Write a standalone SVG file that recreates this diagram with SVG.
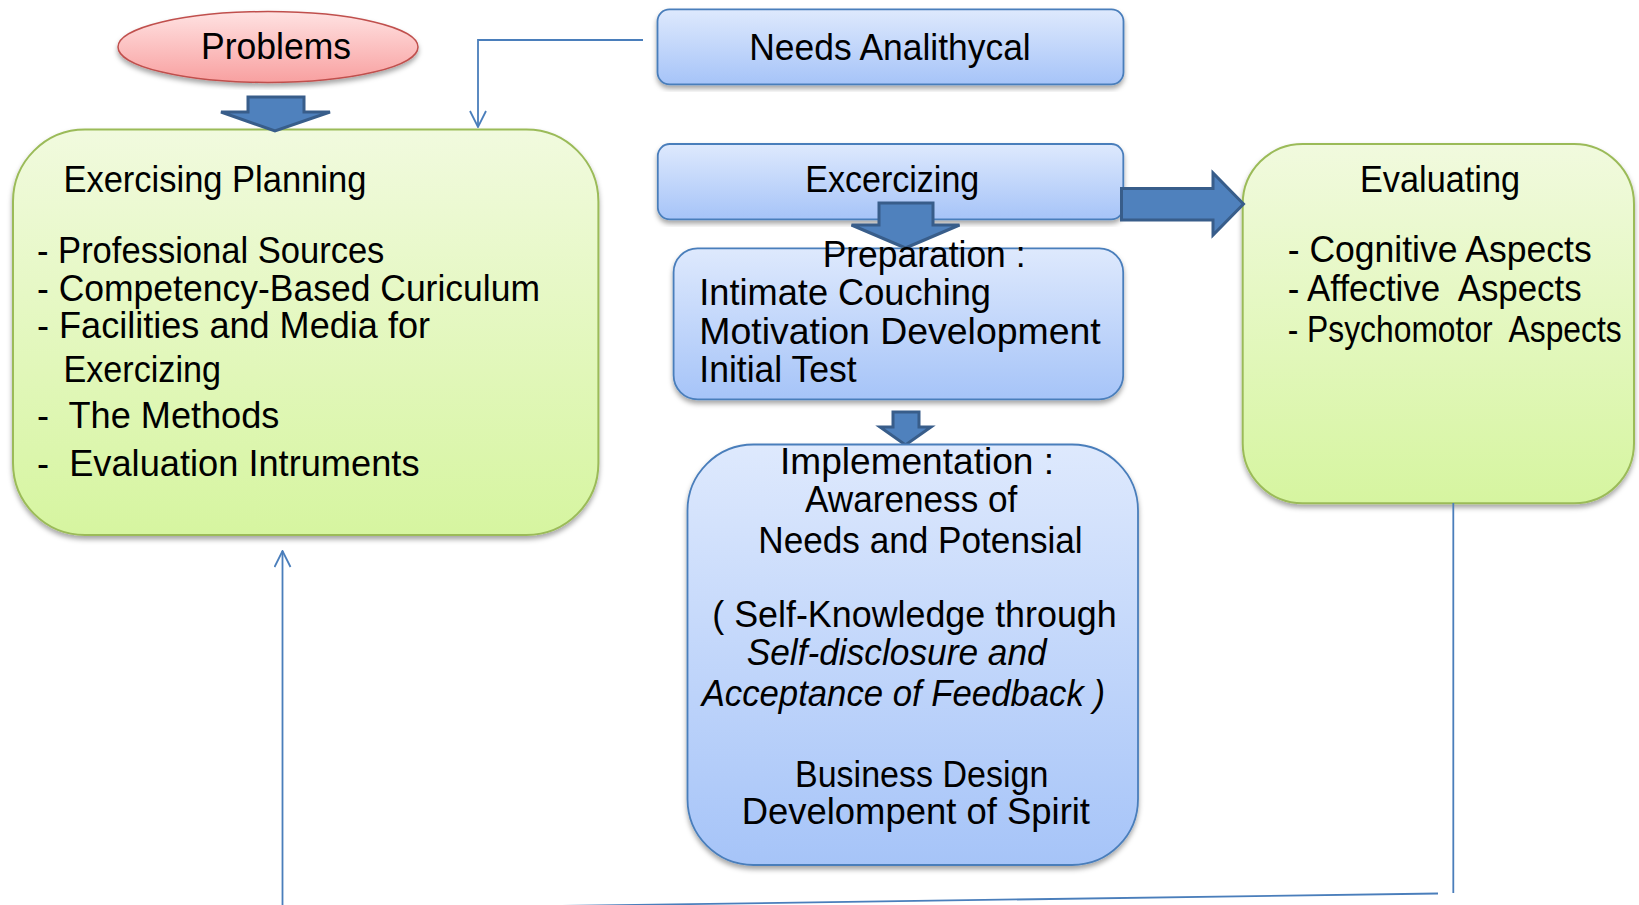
<svg xmlns="http://www.w3.org/2000/svg" width="1639" height="905" viewBox="0 0 1639 905">
<style>
text{font-family:"Liberation Sans",Arial,sans-serif;font-size:37px;fill:#000}
.it{font-style:italic}
.blue{fill:url(#gBlue);stroke:#4a7ebb;stroke-width:1.8;filter:url(#sh)}
.green{fill:url(#gGreen);stroke:#9bbb59;stroke-width:2;filter:url(#sh)}
.red{fill:url(#gRed);stroke:#c0504d;stroke-width:1.5;filter:url(#sh)}
.blk{fill:#4f81bd;stroke:#385d8a;stroke-width:3;stroke-linejoin:miter}
.ln{fill:none;stroke:#4a7ebb;stroke-width:1.8}
</style>
<defs>
<linearGradient id="gBlue" x1="0" y1="0" x2="0" y2="1"><stop offset="0" stop-color="#dee9fd"/><stop offset="1" stop-color="#a6c4f8"/></linearGradient>
<linearGradient id="gGreen" x1="0" y1="0" x2="0" y2="1"><stop offset="0" stop-color="#f1fade"/><stop offset="1" stop-color="#d6f5a0"/></linearGradient>
<linearGradient id="gRed" x1="0" y1="0" x2="0" y2="1"><stop offset="0" stop-color="#ffe2e2"/><stop offset="1" stop-color="#f8a0a0"/></linearGradient>
<filter id="sh" x="-5%" y="-5%" width="110%" height="115%"><feDropShadow dx="0" dy="3.5" stdDeviation="2.5" flood-color="#000" flood-opacity="0.35"/></filter>
<marker id="open" viewBox="0 0 18 18" refX="17" refY="9" markerWidth="18" markerHeight="18" markerUnits="userSpaceOnUse" orient="auto"><path d="M1,1 L17,9 L1,17" fill="none" stroke="#4a7ebb" stroke-width="1.8"/></marker>
</defs>

<g id="excercizing">
<rect class="blue" x="657.8" y="144" width="465.5" height="75.3" rx="12"/>
<text x="805.3" y="191.7" textLength="174" lengthAdjust="spacingAndGlyphs">Excercizing</text>
</g>

<g id="planning">
<rect class="green" x="13" y="129.5" width="585.4" height="405.5" rx="72"/>
<text x="63.4" y="191.7" textLength="303" lengthAdjust="spacingAndGlyphs">Exercising Planning</text>
<text x="37" y="262.7" textLength="347.4" lengthAdjust="spacingAndGlyphs">- Professional Sources</text>
<text x="37" y="301" textLength="503" lengthAdjust="spacingAndGlyphs">- Competency-Based Curiculum</text>
<text x="37" y="338.3" textLength="393" lengthAdjust="spacingAndGlyphs">- Facilities and Media for</text>
<text x="63.4" y="381.7" textLength="157.6" lengthAdjust="spacingAndGlyphs">Exercizing</text>
<text x="37" y="428.3" textLength="242.4" lengthAdjust="spacingAndGlyphs">-&#160; The Methods</text>
<text x="37" y="476" textLength="382.5" lengthAdjust="spacingAndGlyphs">-&#160; Evaluation Intruments</text>
</g>

<g id="evaluating">
<rect class="green" x="1242.7" y="144" width="391.3" height="359.3" rx="60"/>
<text x="1360" y="191.7" textLength="160" lengthAdjust="spacingAndGlyphs">Evaluating</text>
<text x="1287.7" y="262" textLength="304" lengthAdjust="spacingAndGlyphs">- Cognitive Aspects</text>
<text x="1287.7" y="300.5" textLength="294" lengthAdjust="spacingAndGlyphs">- Affective&#160; Aspects</text>
<text x="1287.7" y="342" textLength="334" lengthAdjust="spacingAndGlyphs">- Psychomotor&#160; Aspects</text>
</g>

<g id="needs">
<rect class="blue" x="657.5" y="9.3" width="466" height="75" rx="12"/>
<text x="749.3" y="59.5" textLength="281.4" lengthAdjust="spacingAndGlyphs">Needs Analithycal</text>
</g>

<g id="problems">
<ellipse class="red" cx="268" cy="47" rx="150" ry="35.5"/>
<text x="201" y="59" textLength="150" lengthAdjust="spacingAndGlyphs">Problems</text>
</g>

<g id="connectors">
<polygon class="blk" points="248,97 304,97 304,112 330,112 275,131 221,112 248,112"/>
<path class="ln" d="M643,40 H478 V127" marker-end="url(#open)"/>
<polygon class="blk" points="879,203 933,203 933,225 959.5,225 905.5,248 851.5,225 879,225"/>
<polygon class="blk" points="1121.5,188.5 1213,188.5 1213,173 1243.5,204 1213,235 1213,220 1121.5,220"/>
<polygon class="blk" points="893,412 919,412 919,427 931,427 905.5,445 880,427 893,427"/>
<path class="ln" d="M1453.3,503 V893"/>
<path class="ln" d="M1438,893.5 L520,906.5"/>
<path class="ln" d="M282.5,906 V551" marker-end="url(#open)"/>
</g>

<g id="preparation">
<rect class="blue" x="673.6" y="248.3" width="449.6" height="151" rx="24"/>
<text x="822.7" y="267" textLength="202.8" lengthAdjust="spacingAndGlyphs">Preparation :</text>
<text x="699.3" y="305.3" textLength="291.7" lengthAdjust="spacingAndGlyphs">Intimate Couching</text>
<text x="699.3" y="343.6" textLength="401.4" lengthAdjust="spacingAndGlyphs">Motivation Development</text>
<text x="699.3" y="382" textLength="157.4" lengthAdjust="spacingAndGlyphs">Initial Test</text>
</g>

<g id="implementation">
<rect class="blue" x="687.5" y="444.5" width="450.5" height="420.5" rx="66"/>
<text x="780" y="473.5" textLength="274" lengthAdjust="spacingAndGlyphs">Implementation :</text>
<text x="805" y="512" textLength="212.3" lengthAdjust="spacingAndGlyphs">Awareness of</text>
<text x="758.3" y="553" textLength="324.4" lengthAdjust="spacingAndGlyphs">Needs and Potensial</text>
<text x="712.3" y="627" textLength="404.4" lengthAdjust="spacingAndGlyphs">( Self-Knowledge through</text>
<text class="it" x="746.7" y="665.3" textLength="300" lengthAdjust="spacingAndGlyphs">Self-disclosure and</text>
<text class="it" x="701.7" y="706.3" textLength="403.3" lengthAdjust="spacingAndGlyphs">Acceptance of Feedback )</text>
<text x="795" y="786.5" textLength="253.3" lengthAdjust="spacingAndGlyphs">Business Design</text>
<text x="741.7" y="824" textLength="348.3" lengthAdjust="spacingAndGlyphs">Develompent of Spirit</text>
</g>
</svg>
